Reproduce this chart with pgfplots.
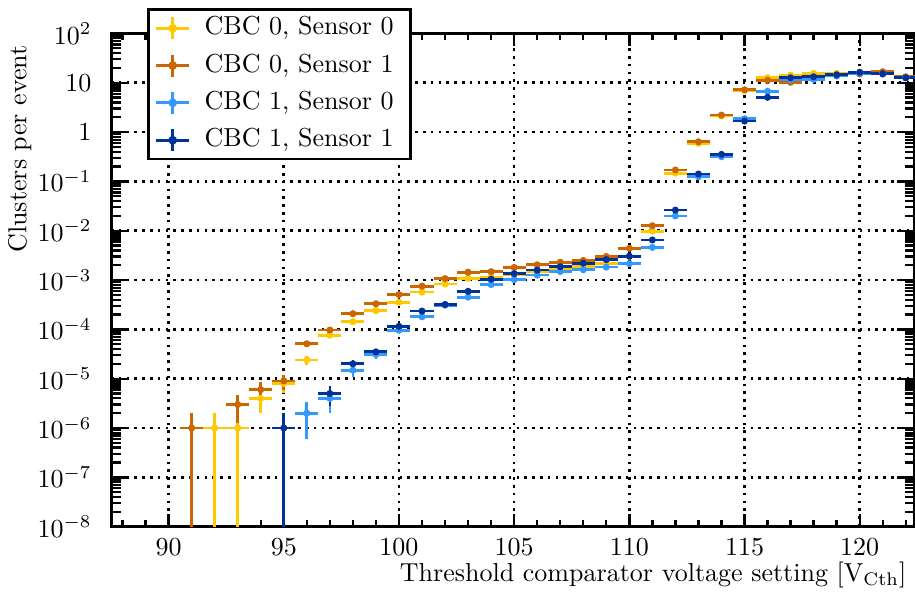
\documentclass[border=0pt]{standalone}
\usepackage{pgfplots}
\pgfplotsset{compat=1.18}
\usepackage{pgfplotstable}
\definecolor{cA}{HTML}{FFC800}
\definecolor{cB}{HTML}{CC6600}
\definecolor{cC}{HTML}{3399FF}
\definecolor{cD}{HTML}{003399}

% CBC 0, Sensor 0
\pgfplotstableread{
x y ep em
92 1e-6 1e-6 0.999e-6
93 1e-6 1e-6 0.999e-6
94 4e-6 2e-6 2e-6
95 8e-6 2.83e-6 2.83e-6
96 2.4e-5 4.9e-6 4.9e-6
97 7.6e-5 8.7e-6 8.7e-6
98 1.43e-4 1.2e-5 1.2e-5
99 2.4e-4 1.55e-5 1.55e-5
100 3.55e-4 1.9e-5 1.9e-5
101 5.7e-4 2.4e-5 2.4e-5
102 8.3e-4 2.9e-5 2.9e-5
103 1.09e-3 0 0
104 1.16e-3 0 0
105 1.3e-3 0 0
106 1.5e-3 0 0
107 1.66e-3 0 0
108 1.87e-3 0 0
109 2.2e-3 0 0
110 3.0e-3 0 0
111 9.8e-3 0 0
112 0.147 0 0
113 0.59 0 0
114 2.11 0 0
115 7.0 0 0
116 12.6 0 0
117 14.3 0 0
118 15.5 0 0
119 15.5 0 0
120 16.3 0 0
121 16.0 0 0
122 13.0 0 0
}\tA

% CBC 0, Sensor 1
\pgfplotstableread{
x y ep em
91 1e-6 1e-6 0.999e-6
93 3e-6 1.73e-6 1.73e-6
94 6e-6 2.45e-6 2.45e-6
95 9e-6 3e-6 3e-6
96 5.1e-5 7.1e-6 7.1e-6
97 9.7e-5 9.8e-6 9.8e-6
98 2.08e-4 1.44e-5 1.44e-5
99 3.3e-4 1.8e-5 1.8e-5
100 5.07e-4 2.25e-5 2.25e-5
101 7.5e-4 2.7e-5 2.7e-5
102 1.07e-3 0 0
103 1.44e-3 0 0
104 1.48e-3 0 0
105 1.8e-3 0 0
106 2.04e-3 0 0
107 2.3e-3 0 0
108 2.5e-3 0 0
109 3.0e-3 0 0
110 4.4e-3 0 0
111 1.26e-2 0 0
112 0.170 0 0
113 0.636 0 0
114 2.21 0 0
115 7.2 0 0
116 11.2 0 0
117 10.2 0 0
118 12.9 0 0
119 14.1 0 0
120 15.0 0 0
121 16.7 0 0
122 13.2 0 0
}\tB

% CBC 1, Sensor 0
\pgfplotstableread{
x y ep em
96 2e-6 1.41e-6 1.41e-6
97 4e-6 2e-6 2e-6
98 1.48e-5 3.85e-6 3.85e-6
99 3.1e-5 5.57e-6 5.57e-6
100 9.6e-5 9.8e-6 9.8e-6
101 1.8e-4 1.34e-5 1.34e-5
102 3.1e-4 1.76e-5 1.76e-5
103 4.5e-4 2.1e-5 2.1e-5
104 8.1e-4 2.85e-5 2.85e-5
105 1.02e-3 0 0
106 1.26e-3 0 0
107 1.49e-3 0 0
108 1.62e-3 0 0
109 1.83e-3 0 0
110 2.14e-3 0 0
111 4.6e-3 0 0
112 0.020 0 0
113 0.124 0 0
114 0.316 0 0
115 1.86 0 0
116 6.7 0 0
117 11.4 0 0
118 11.7 0 0
119 13.7 0 0
120 15.5 0 0
121 15.0 0 0
122 12.6 0 0
}\tC

% CBC 1, Sensor 1
\pgfplotstableread{
x y ep em
95 1e-6 1e-6 0.999e-6
97 5e-6 2.24e-6 2.24e-6
98 2.0e-5 4.47e-6 4.47e-6
99 3.5e-5 5.9e-6 5.9e-6
100 1.15e-4 1.07e-5 1.07e-5
101 2.35e-4 1.53e-5 1.53e-5
102 3.2e-4 1.79e-5 1.79e-5
103 5.9e-4 2.43e-5 2.43e-5
104 1.04e-3 0 0
105 1.35e-3 0 0
106 1.59e-3 0 0
107 1.86e-3 0 0
108 2.2e-3 0 0
109 2.6e-3 0 0
110 3.05e-3 0 0
111 6.5e-3 0 0
112 0.0262 0 0
113 0.141 0 0
114 0.353 0 0
115 1.67 0 0
116 5.06 0 0
117 12.6 0 0
118 13.2 0 0
119 14.5 0 0
120 16.3 0 0
121 15.2 0 0
122 12.6 0 0
}\tD

\begin{document}
\begin{tikzpicture}
\begin{axis}[
  at={(0pt,0pt)}, anchor=south west,
  scale only axis, width=309.2pt, height=189.7pt,
  xmin=87.5, xmax=122.4,
  ymode=log, ymin=1e-8, ymax=1e2,
  xtick={90,95,100,105,110,115,120},
  minor xtick={88,89,90,91,92,93,94,95,96,97,98,99,100,101,102,103,104,105,106,107,108,109,110,111,112,113,114,115,116,117,118,119,120,121,122},
  ytick={1e-8,1e-7,1e-6,1e-5,1e-4,1e-3,1e-2,1e-1,1,10,100},
  yticklabels={$10^{-8}$,$10^{-7}$,$10^{-6}$,$10^{-5}$,$10^{-4}$,$10^{-3}$,$10^{-2}$,$10^{-1}$,$1$,$10$,$10^{2}$},
  minor ytick={2e-8,3e-8,4e-8,5e-8,6e-8,7e-8,8e-8,9e-8,
    2e-7,3e-7,4e-7,5e-7,6e-7,7e-7,8e-7,9e-7,
    2e-6,3e-6,4e-6,5e-6,6e-6,7e-6,8e-6,9e-6,
    2e-5,3e-5,4e-5,5e-5,6e-5,7e-5,8e-5,9e-5,
    2e-4,3e-4,4e-4,5e-4,6e-4,7e-4,8e-4,9e-4,
    2e-3,3e-3,4e-3,5e-3,6e-3,7e-3,8e-3,9e-3,
    2e-2,3e-2,4e-2,5e-2,6e-2,7e-2,8e-2,9e-2,
    0.2,0.3,0.4,0.5,0.6,0.7,0.8,0.9,
    2,3,4,5,6,7,8,9,20,30,40,50,60,70,80,90},
  tick pos=both, tick align=inside,
  major tick length=6.9pt, minor tick length=3.8pt,
  xtick style={/pgfplots/major tick length=5pt, /pgfplots/minor tick length=2.7pt},
  tick style={black, line width=0.9pt},
  axis line style={line width=1.15pt},
  xmajorgrids, ymajorgrids,
  major grid style={black, line width=1pt, dash pattern=on 1pt off 2pt},
  yticklabel style={xshift=-4pt},
  xticklabel style={yshift=-1pt},
  xlabel={Threshold comparator voltage setting [V$_{\mathrm{Cth}}$]},
  ylabel={Clusters per event},
  xlabel style={at={(axis description cs:1,0)}, anchor=base east, inner sep=0pt, xshift=-3.1pt, yshift=-21.2pt},
  ylabel style={at={(axis description cs:-0.0983,0.9765)}, anchor=south east, inner sep=0pt},
  error bars/x dir=both, error bars/x fixed=0.5,
  error bars/y dir=both, error bars/y explicit,
  error bars/error mark=none,
  error bars/error bar style={line width=1.05pt},
  legend image code/.code={
    \draw[#1, mark=none, line width=1.05pt] (0pt,0pt) -- (12.7pt,0pt);
    \draw[#1, mark=none, line width=1.05pt] (6.35pt,-4.25pt) -- (6.35pt,4.25pt);
    \fill[#1] (6.35pt,0pt) circle (1.15pt);
  },
  legend cell align=left,
  legend style={at={(axis description cs:0.0448,1.0515)}, anchor=north west,
    draw=black, line width=1pt, fill=white, inner sep=2.5pt, row sep=4.8pt,
    font=\normalsize,
    nodes={inner sep=0pt, text height=7.2pt, text depth=2.2pt},
    /tikz/every odd column/.append style={column sep=5.4pt}},
]
\addplot[color=cA, mark=*, mark size=1.15pt, only marks] table[x=x, y=y, y error plus=ep, y error minus=em] {\tA};
\addlegendentry{CBC 0, Sensor 0\hspace*{4pt}}
\addplot[color=cB, mark=*, mark size=1.15pt, only marks] table[x=x, y=y, y error plus=ep, y error minus=em] {\tB};
\addlegendentry{CBC 0, Sensor 1\hspace*{4pt}}
\addplot[color=cC, mark=*, mark size=1.15pt, only marks] table[x=x, y=y, y error plus=ep, y error minus=em] {\tC};
\addlegendentry{CBC 1, Sensor 0\hspace*{4pt}}
\addplot[color=cD, mark=*, mark size=1.15pt, only marks] table[x=x, y=y, y error plus=ep, y error minus=em] {\tD};
\addlegendentry{CBC 1, Sensor 1\hspace*{4pt}}
\end{axis}
\pgfresetboundingbox
\useasboundingbox (-42.7pt,-25.5pt) rectangle (309.2pt,202.55pt);
\end{tikzpicture}
\end{document}
